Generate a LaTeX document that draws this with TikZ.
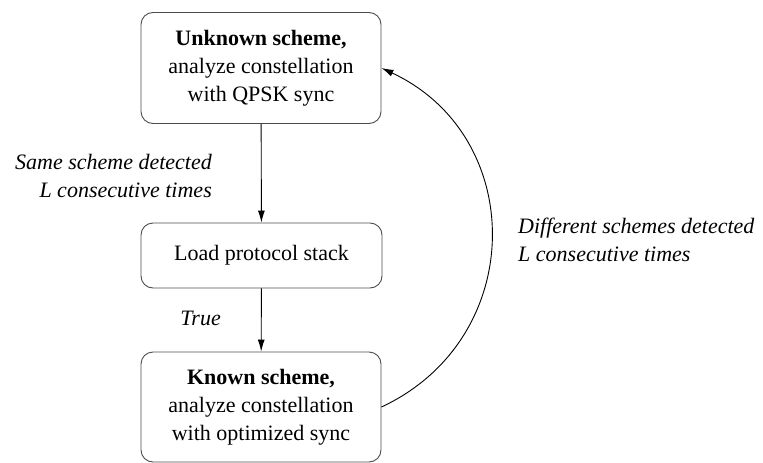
\documentclass[tikz,border=0pt]{standalone}
\usepackage{fontspec}
\setmainfont{Liberation Serif}
\newfontfamily\tms{Liberation Serif}
\usetikzlibrary{arrows.meta}
\begin{document}
\begin{tikzpicture}[x=1pt,y=-1pt,
  font=\tms\fontsize{22}{28}\selectfont,
  stbox/.style={draw=black!70,line width=0.9pt,rounded corners=12pt,
    minimum width=240pt,align=center,inner sep=0pt},
  conn/.style={line width=0.9pt,-{Latex[length=12pt,width=7pt]}},
  lbl/.style={font=\tms\fontsize{22}{28.5}\selectfont\itshape,inner sep=0pt}]
\useasboundingbox (0,0) rectangle (763,463);
\node[stbox,minimum height=111pt] (top) at (261,68)
  {\textbf{Unknown scheme,}\\analyze constellation\\with QPSK sync};
\node[stbox,minimum height=65pt,minimum width=241pt] (mid) at (261.5,255.5)
  {Load protocol stack};
\node[stbox,minimum height=110pt] (bot) at (261,407)
  {\textbf{Known scheme,}\\analyze constellation\\with optimized sync};
\draw[conn] (top) -- (mid);
\draw[conn] (mid) -- (bot);
\draw[conn] (bot.east) to[out=25,in=-25,looseness=1.22] (top.east);
\node[lbl,align=right,anchor=east] (l1) at (212,176)
  {Same scheme detected\\L consecutive times};
\node[lbl,anchor=east] (l2) at (221,318) {True};
\node[lbl,align=left,anchor=west] (l3) at (518,240)
  {Different schemes detected\\L consecutive times};
\end{tikzpicture}
\end{document}
